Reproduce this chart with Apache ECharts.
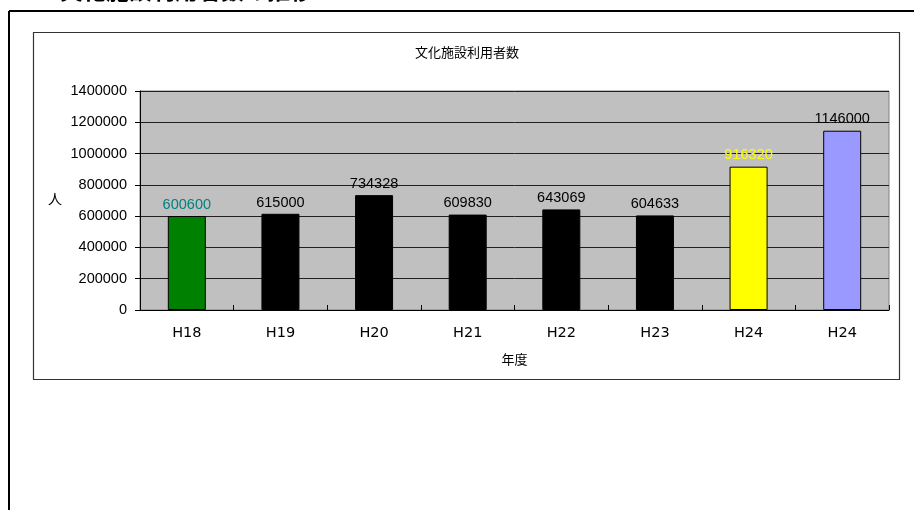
<!DOCTYPE html>
<html>
<head>
<meta charset="utf-8">
<script src="https://cdn.jsdelivr.net/npm/echarts@6/dist/echarts.min.js"></script>
<style>
html,body{margin:0;padding:0;background:#fff;}
#chart{width:914px;height:510px;}
</style>
</head>
<body>
<div id="chart"></div>
<script>
const categories = ['H18', 'H19', 'H20', 'H21', 'H22', 'H23', 'H24', 'H24'];
const visitors = [600600, 615000, 734328, 609830, 643069, 604633, 916320, 1146000];
const barColors = ['#008000', '#000000', '#000000', '#000000', '#000000', '#000000', '#ffff00', '#9999ff'];
const labelColors = ['#008080', '#000000', '#000000', '#000000', '#000000', '#000000', '#ffff00', '#000000'];
const yTicks = [0, 200000, 400000, 600000, 800000, 1000000, 1200000, 1400000];
const chartTitle = '文化施設利用者数';
const xName = '年度';
const yName = '人';

const FONT = "'Liberation Sans', 'Noto Sans CJK JP', sans-serif";
const FONT_X = "'DejaVu Sans', 'Noto Sans CJK JP', sans-serif";
const chart = echarts.init(document.getElementById('chart'), null, {renderer: 'canvas'});

chart.setOption({
  backgroundColor: '#ffffff',
  animation: false,
  graphic: [
    {type: 'text', left: 60, top: -19, style: {text: '文化施設利用者数の推移', fontSize: 23, fontWeight: 'bold', fill: '#000', fontFamily: FONT}},
    {type: 'line', shape: {x1: 9, y1: 11, x2: 914, y2: 11}, style: {stroke: '#000', lineWidth: 2}},
    {type: 'line', shape: {x1: 9, y1: 11, x2: 9, y2: 510}, style: {stroke: '#000', lineWidth: 2}},
    {type: 'rect', shape: {x: 33.5, y: 32.5, width: 866, height: 347}, style: {fill: null, stroke: '#333', lineWidth: 1.2}, z: 0},
    {type: 'text', x: 467, y: 53, style: {text: chartTitle, fontSize: 13, fill: '#000', fontFamily: FONT, align: 'center', verticalAlign: 'middle'}}
  ],
  grid: {
    left: 140, top: 91, right: 25, bottom: 200,
    show: true, backgroundColor: '#c0c0c0', borderColor: '#808080', borderWidth: 1
  },
  xAxis: {
    type: 'category',
    data: categories,
    name: xName,
    nameLocation: 'middle',
    nameGap: 44,
    nameTextStyle: {fontSize: 13, color: '#000', fontFamily: FONT},
    axisLine: {show: true, lineStyle: {color: '#000', width: 1}},
    axisTick: {show: true, inside: true, length: 5, lineStyle: {color: '#000'}},
    axisLabel: {fontSize: 14.5, color: '#000', margin: 16, fontFamily: FONT_X},
    splitLine: {show: false}
  },
  yAxis: {
    type: 'value',
    min: yTicks[0],
    max: yTicks[yTicks.length - 1],
    interval: yTicks[1] - yTicks[0],
    name: yName,
    nameLocation: 'middle',
    nameRotate: 0,
    nameGap: 78,
    nameTextStyle: {fontSize: 14, color: '#000', fontFamily: FONT},
    axisLine: {show: true, lineStyle: {color: '#000', width: 1}},
    axisTick: {show: true, inside: false, length: 5, lineStyle: {color: '#000'}},
    axisLabel: {fontSize: 14.5, color: '#000', margin: 13, fontFamily: FONT, formatter: v => String(v)},
    splitLine: {show: true, lineStyle: {color: '#202020', width: 1}}
  },
  series: [{
    type: 'bar',
    barWidth: 38,
    data: visitors.map((v, i) => ({
      value: v,
      itemStyle: {color: barColors[i], borderColor: '#000', borderWidth: 1},
      label: {color: labelColors[i]}
    })),
    label: {show: true, position: 'top', distance: 4, fontSize: 14.5, fontFamily: FONT}
  }]
});
</script>
</body>
</html>
